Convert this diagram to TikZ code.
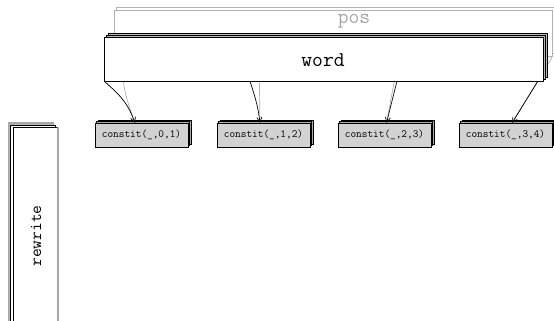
\documentclass[tikz,border=0pt]{standalone}
\usetikzlibrary{arrows.meta}
\begin{document}
\begin{tikzpicture}[x=1pt,y=-1pt,
  every node/.style={inner sep=0pt,outer sep=0pt},
  posbox/.style={draw=gray!60,fill=white,line width=0.8pt,rectangle},
  poscopy/.style={draw=gray!60,fill=white,line width=0.8pt,rectangle},
  wordbox/.style={draw=black,fill=white,line width=0.8pt,rectangle},
  wordcopy/.style={draw=black,fill=gray!55,line width=0.7pt,rectangle},
  cbox/.style={draw=black,fill=gray!35,line width=0.7pt,rectangle,minimum width=93pt,minimum height=24pt,font=\ttfamily\fontsize{11}{12}\selectfont},
  ccopy/.style={draw=black,fill=gray!65,line width=0.6pt,rectangle,minimum width=93pt,minimum height=24pt},
  conn/.style={draw=black,line width=0.7pt,-{Straight Barb[length=5pt,width=5pt]}},
  gconn/.style={draw=gray!60,line width=0.7pt},
  bigtext/.style={font=\ttfamily\fontsize{21}{22}\selectfont}
]
\useasboundingbox (0,0) rectangle (554,321);

% pos box
\node[poscopy,minimum width=438pt,minimum height=46pt] (pos2) at (335,30) {};
\node[posbox,minimum width=438pt,minimum height=46pt] (pos) at (333,33) {};
\node[bigtext,text=gray!70] (postext) at (354,21) {pos};

% constit boxes (copies then fronts)
\foreach \i/\cx in {1/141.5,2/263.5,3/384.5,4/505.5}{
  \node[ccopy] (cc\i b) at (\cx+3,132) {};
  \node[ccopy] (cc\i a) at (\cx+1.5,133.5) {};
}
\node[cbox] (c1) at (141.5,135) {constit(\_,0,1)};
\node[cbox] (c2) at (263.5,135) {constit(\_,1,2)};
\node[cbox] (c3) at (384.5,135) {constit(\_,2,3)};
\node[cbox] (c4) at (505.5,135) {constit(\_,3,4)};

% gray connectors from pos (behind word)
\draw[gconn] ([xshift=7pt]pos.south west) .. controls (124,92) .. ([xshift=-6.5pt]c1.north);
\draw[gconn] ([xshift=145pt]pos.south west) -- ([xshift=-3.5pt]c2.north);
\draw[gconn] ([xshift=285pt]pos.south west) -- ([xshift=2pt]c3.north);
\draw[gconn] (pos.south east) .. controls (551,60) and (550,61) .. (548,64) -- ([xshift=6.5pt]c4.north);

% word box
\node[wordcopy,minimum width=439pt,minimum height=44pt] (word3) at (327.5,55) {};
\node[wordcopy,minimum width=439pt,minimum height=44pt] (word2) at (325.5,57) {};
\node[wordbox,minimum width=439pt,minimum height=44pt] (word) at (323.5,59) {};
\node[bigtext] (wordtext) at (323,60) {word};

% black connectors
\draw[conn] (word.south west) .. controls (116,92) and (127,100) .. ([xshift=-6.5pt]c1.north);
\draw[conn] ([xshift=146pt]word.south west) .. controls (254,94) and (258,105) .. ([xshift=-3.5pt]c2.north);
\draw[conn] ([xshift=293pt]word.south west) -- ([xshift=2pt]c3.north);
\draw[conn] ([xshift=-5pt]word.south east) -- ([xshift=6.5pt]c4.north);

% rewrite box
\node[draw=gray!70,fill=gray!55,line width=1.2pt,minimum width=45pt,minimum height=210pt] (rw3) at (31,228) {};
\node[draw=black,fill=white,line width=0.7pt,minimum width=45pt,minimum height=210pt] (rw2) at (33,230) {};
\node[draw=black,fill=white,line width=0.7pt,minimum width=45pt,minimum height=210pt] (rw) at (35.5,232) {};
\draw[gray!70,line width=1.3pt] (rw.north east) -- (rw.south east);
\node[rotate=90,font=\ttfamily\fontsize{17}{18}\selectfont] (rwtext) at (36,236) {rewrite};
\end{tikzpicture}
\end{document}
